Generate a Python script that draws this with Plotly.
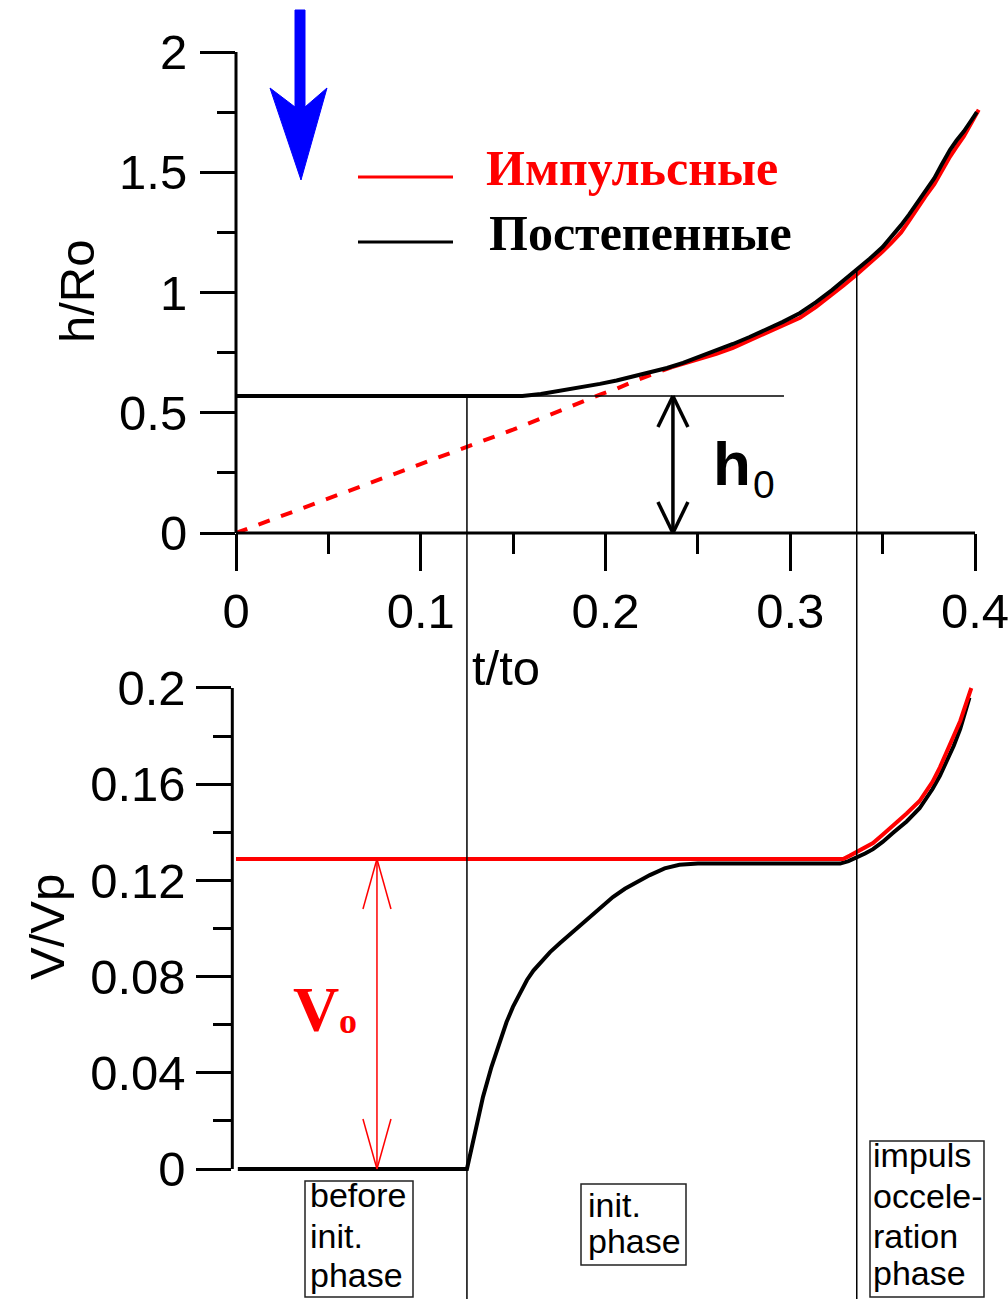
import plotly.graph_objects as go

W, H = 1008, 1299

# ---- data: height of the front (top panel) ----
t_black_top = [0.0, 0.155, 0.165, 0.175, 0.186, 0.197, 0.206, 0.215, 0.224, 0.2333,
               0.242, 0.25, 0.26, 0.269, 0.278, 0.287, 0.296, 0.3053, 0.314, 0.3226,
               0.329, 0.336, 0.343, 0.350, 0.355, 0.360, 0.3643, 0.3686, 0.373, 0.378,
               0.382, 0.3865, 0.390, 0.394, 0.3975, 0.401]
h_black_top = [0.57, 0.57, 0.578, 0.59, 0.604, 0.62, 0.634, 0.65, 0.667, 0.686,
               0.707, 0.73, 0.757, 0.786, 0.815, 0.845, 0.878, 0.915, 0.96, 1.01,
               1.05, 1.093, 1.14, 1.189, 1.232, 1.28, 1.324, 1.372, 1.42, 1.475,
               1.532, 1.593, 1.632, 1.67, 1.71, 1.75]

t_red_dash = [0.0, 0.05, 0.10, 0.15, 0.197, 0.206, 0.215, 0.226, 0.236]
h_red_dash = [0.0, 0.142, 0.285, 0.43, 0.575, 0.60, 0.63, 0.66, 0.69]

t_red_top = [0.236, 0.243, 0.25, 0.26, 0.269, 0.278, 0.287, 0.296, 0.3053, 0.314,
             0.3226, 0.329, 0.336, 0.343, 0.350, 0.355, 0.360, 0.3643, 0.3686, 0.373,
             0.378, 0.382, 0.3865, 0.390, 0.394, 0.398, 0.402]
h_red_top = [0.69, 0.705, 0.72, 0.745, 0.77, 0.80, 0.83, 0.862, 0.895, 0.94,
             0.99, 1.03, 1.075, 1.12, 1.17, 1.208, 1.25, 1.298, 1.35, 1.398,
             1.45, 1.505, 1.565, 1.605, 1.65, 1.705, 1.76]

# ---- data: velocity (bottom panel) ----
t_black_bot = [0.001, 0.125, 0.1295, 0.1337, 0.1383, 0.1429, 0.1464, 0.1499, 0.1537,
               0.1575, 0.161, 0.1645, 0.170, 0.1754, 0.183, 0.190, 0.197, 0.204,
               0.2105, 0.217, 0.224, 0.232, 0.240, 0.250, 0.260, 0.327, 0.3315,
               0.336, 0.3405, 0.3448, 0.350, 0.356, 0.363, 0.370, 0.377, 0.381,
               0.385, 0.3885, 0.392, 0.397]
v_black_bot = [0.0, 0.0, 0.0155, 0.030, 0.0425, 0.0536, 0.061, 0.0674, 0.0734,
               0.0786, 0.0825, 0.0857, 0.0902, 0.094, 0.099, 0.1036, 0.1085, 0.1131,
               0.1165, 0.1193, 0.1222, 0.1250, 0.1265, 0.1270, 0.1270, 0.1270, 0.1280,
               0.1295, 0.1312, 0.1330, 0.1360, 0.1400, 0.1445, 0.1500, 0.1580, 0.1635,
               0.1700, 0.1760, 0.1830, 0.1960]

t_red_bot = [0.0, 0.3286, 0.3323, 0.336, 0.3404, 0.3448, 0.350, 0.356, 0.363, 0.370,
             0.377, 0.381, 0.385, 0.3885, 0.392, 0.398]
v_red_bot = [0.1289, 0.1289, 0.1303, 0.1318, 0.1335, 0.1355, 0.1390, 0.1430, 0.1478, 0.1530,
             0.1610, 0.1670, 0.1738, 0.1800, 0.1863, 0.2000]

# reference levels and phase boundaries
h0_level = 0.57
h0_line_end = 0.2966
v0_level = 0.1289
t_phase1 = 0.125
t_phase2 = 0.336
h_phase2 = 1.093
t_h0_arrow = 0.2365
t_v0_arrow = 0.0763

legend_names = ["Импульсные", "Постепенные"]
legend_colors = ["#ff0000", "#000000"]
phase_boxes = [["before", "init.", "phase"],
               ["init.", "phase"],
               ["impuls", "occele-", "ration", "phase"]]

# ---- axes geometry ----
PX_PER_T = 1847.5
X_LEFT_PX = 236.0
XR_TOP = [0.0, 0.404]
XR_BOT = [-0.002, 0.404]
YR_TOP = [0.0, 2.2]
YR_BOT = [-0.003, 0.205]
PX_PER_H = 240.5
PX_PER_V = 2405.0
Y0_TOP_PX = 533.0
Y0_BOT_PX = 1169.0

xd_top = [(X_LEFT_PX + XR_TOP[0] * PX_PER_T) / W, (X_LEFT_PX + XR_TOP[1] * PX_PER_T) / W]
xd_bot = [(X_LEFT_PX + XR_BOT[0] * PX_PER_T) / W, (X_LEFT_PX + XR_BOT[1] * PX_PER_T) / W]
yd_top = [1 - (Y0_TOP_PX - YR_TOP[0] * PX_PER_H) / H, 1 - (Y0_TOP_PX - YR_TOP[1] * PX_PER_H) / H]
yd_bot = [1 - (Y0_BOT_PX - YR_BOT[0] * PX_PER_V) / H, 1 - (Y0_BOT_PX - YR_BOT[1] * PX_PER_V) / H]


def px(xpix):
    return xpix / W


def py(ypix):
    return 1 - ypix / H


def tx(t):
    return xd_top[0] + (t - XR_TOP[0]) / (XR_TOP[1] - XR_TOP[0]) * (xd_top[1] - xd_top[0])


def hy(h):
    return yd_top[0] + (h - YR_TOP[0]) / (YR_TOP[1] - YR_TOP[0]) * (yd_top[1] - yd_top[0])


def vy(v):
    return yd_bot[0] + (v - YR_BOT[0]) / (YR_BOT[1] - YR_BOT[0]) * (yd_bot[1] - yd_bot[0])


SANS = "Liberation Sans, Arial, sans-serif"
SERIF = "Liberation Serif, Times New Roman, serif"

fig = go.Figure()

# top panel curves (red under black)
fig.add_trace(go.Scatter(x=t_red_dash, y=h_red_dash, mode="lines", xaxis="x", yaxis="y",
                         line=dict(color="#ff0000", width=4, dash="dash")))
fig.add_trace(go.Scatter(x=t_red_top, y=h_red_top, mode="lines", xaxis="x", yaxis="y",
                         line=dict(color="#ff0000", width=4)))
fig.add_trace(go.Scatter(x=t_black_top, y=h_black_top, mode="lines", xaxis="x", yaxis="y",
                         line=dict(color="#000000", width=4)))

# bottom panel curves (black under red)
fig.add_trace(go.Scatter(x=t_black_bot, y=v_black_bot, mode="lines", xaxis="x2", yaxis="y2",
                         line=dict(color="#000000", width=4)))
fig.add_trace(go.Scatter(x=t_red_bot, y=v_red_bot, mode="lines", xaxis="x2", yaxis="y2",
                         line=dict(color="#ff0000", width=4)))

shapes = []
BLK = "#000000"
RED = "#ff0000"


def seg(x0, y0, x1, y1, color=BLK, width=3):
    shapes.append(dict(type="line", xref="paper", yref="paper", x0=x0, y0=y0, x1=x1, y1=y1,
                       line=dict(color=color, width=width), layer="above"))


# axis lines
seg(tx(0), hy(0), tx(0.4), hy(0))
seg(tx(0), hy(0), tx(0), hy(2.0))
seg(px(X_LEFT_PX + XR_BOT[0] * PX_PER_T), vy(0), px(X_LEFT_PX + XR_BOT[0] * PX_PER_T), vy(0.2))

# h0 level and phase boundaries
seg(tx(0), hy(h0_level), tx(h0_line_end), hy(h0_level), width=1.5)
seg(tx(t_phase1), hy(h0_level), tx(t_phase1), 0, width=1.5)
seg(tx(t_phase2), hy(h_phase2), tx(t_phase2), 0, width=1.5)

# h0 double arrow
ax_ = tx(t_h0_arrow)
seg(ax_, hy(0), ax_, hy(h0_level), width=3.5)
wx, wy = 15 / W, 31 / H
seg(ax_, hy(h0_level), ax_ - wx, hy(h0_level) - wy, width=3.5)
seg(ax_, hy(h0_level), ax_ + wx, hy(h0_level) - wy, width=3.5)
seg(ax_, hy(0), ax_ - wx, hy(0) + wy, width=3.5)
seg(ax_, hy(0), ax_ + wx, hy(0) + wy, width=3.5)

# V0 double arrow
vx_ = tx(t_v0_arrow)
seg(vx_, vy(0), vx_, vy(v0_level), color=RED, width=1.5)
rwx, rwy = 14 / W, 50 / H
seg(vx_, vy(v0_level), vx_ - rwx, vy(v0_level) - rwy, color=RED, width=1.5)
seg(vx_, vy(v0_level), vx_ + rwx, vy(v0_level) - rwy, color=RED, width=1.5)
seg(vx_, vy(0), vx_ - rwx, vy(0) + rwy, color=RED, width=1.5)
seg(vx_, vy(0), vx_ + rwx, vy(0) + rwy, color=RED, width=1.5)

# blue arrow marker (pixel outline)
arrow_pts = [(295, 10), (305, 10), (305, 107), (327, 88), (301, 180), (270, 88), (295, 107)]
path = "M " + " L ".join(f"{px(x):.5f},{py(y):.5f}" for x, y in arrow_pts) + " Z"
shapes.append(dict(type="path", xref="paper", yref="paper", path=path,
                   fillcolor="#0000ff", line=dict(color="#0000ff", width=1)))

# legend lines
seg(px(358), py(177), px(453), py(177), color=RED, width=3)
seg(px(358), py(242), px(453), py(242), color=BLK, width=3)

annotations = []


def label(text, x, y, size, color=BLK, family=SANS, xanchor="left", angle=0, bold=False):
    if bold:
        text = f"<b>{text}</b>"
    annotations.append(dict(text=text, x=x, y=y, xref="paper", yref="paper", showarrow=False,
                            xanchor=xanchor, yanchor="middle", textangle=angle, borderpad=0,
                            font=dict(family=family, size=size, color=color)))


# legend text
label(legend_names[0], px(485), py(185 - 0.3375 * 50), 50, color=legend_colors[0], family=SERIF, bold=True)
label(legend_names[1], px(488), py(250 - 0.3375 * 50), 50, color=legend_colors[1], family=SERIF, bold=True)

# axis titles
label("h/Ro", px(77), py(291), 49, xanchor="center", angle=-90)
label("t/to", px(506), py(668), 49, xanchor="center")
label("V/Vp", px(47), py(927), 49, xanchor="center", angle=-90)

# h0 and V0 markers
label("h", px(712), py(485 - 0.3465 * 62), 62, bold=True)
label("0", px(752), py(498 - 0.3465 * 39), 39)
label("V", px(292), py(1031 - 0.3375 * 64), 64, color=RED, family=SERIF, bold=True)
label("o", px(338), py(1033 - 0.3375 * 36), 36, color=RED, family=SERIF, bold=True)

# phase boxes
box_rects = [(305, 1181, 413, 1297), (581, 1184, 686, 1265), (870, 1141, 984, 1297)]
box_text_left = [309, 587, 872]
box_baselines = [[1207, 1248, 1287], [1217, 1253], [1167, 1208, 1248, 1285]]
for lines, rect, left, bases in zip(phase_boxes, box_rects, box_text_left, box_baselines):
    shapes.append(dict(type="rect", xref="paper", yref="paper",
                       x0=px(rect[0]), y0=py(rect[1]), x1=px(rect[2]), y1=py(rect[3]),
                       line=dict(color="#222222", width=1.5), fillcolor="rgba(0,0,0,0)"))
    for line_text, base in zip(lines, bases):
        label(line_text, px(left), py(base - 0.3465 * 34), 34)

tickfont = dict(family=SANS, size=49, color="black")
common = dict(showline=False, showgrid=False, zeroline=False, automargin=False,
              ticks="outside", tickwidth=3, tickcolor="black", tick0=0,
              tickfont=tickfont, ticklabeloverflow="allow")
fig.update_layout(
    template="none",
    width=W, height=H, autosize=False,
    margin=dict(l=0, r=0, t=0, b=0, pad=0),
    paper_bgcolor="white", plot_bgcolor="white",
    showlegend=False,
    xaxis=dict(domain=xd_top, range=XR_TOP, anchor="y", ticklen=37, dtick=0.1,
               ticklabelstandoff=-2,
               minor=dict(dtick=0.05, tick0=0, ticks="outside", ticklen=20, tickwidth=3,
                          tickcolor="black", showgrid=False), **common),
    yaxis=dict(domain=yd_top, range=YR_TOP, anchor="x", ticklen=35, dtick=0.5,
               ticklabelstandoff=3,
               minor=dict(dtick=0.25, tick0=0, ticks="outside", ticklen=18, tickwidth=3,
                          tickcolor="black", showgrid=False), **common),
    xaxis2=dict(domain=xd_bot, range=XR_BOT, anchor="y2", visible=False, automargin=False),
    yaxis2=dict(domain=yd_bot, range=YR_BOT, anchor="x2", ticklen=35, dtick=0.04,
                ticklabelstandoff=1,
                minor=dict(dtick=0.02, tick0=0, ticks="outside", ticklen=18, tickwidth=3,
                           tickcolor="black", showgrid=False), **common),
    shapes=shapes,
    annotations=annotations,
)

# the page body keeps no default margin so the figure fills the window exactly
fig.write_html("out.html", config={"displayModeBar": False},
               post_script="document.body.style.margin='0';document.body.style.overflow='hidden';")
